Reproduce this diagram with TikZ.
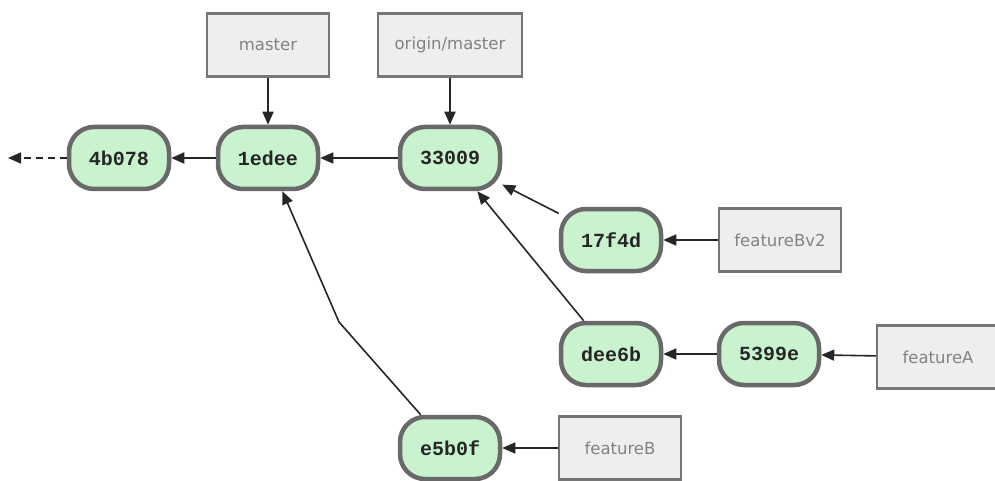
\documentclass[tikz,border=0pt]{standalone}
\usepackage{fontspec}
\setmainfont{DejaVu Sans}
\newfontfamily\monofont{Liberation Mono}
\usetikzlibrary{arrows.meta}
\definecolor{commitfill}{RGB}{201,243,207}
\definecolor{commitdraw}{RGB}{105,105,105}
\definecolor{reffill}{RGB}{238,238,238}
\definecolor{refdraw}{RGB}{118,118,118}
\definecolor{reftext}{RGB}{130,130,130}
\begin{document}
\begin{tikzpicture}[x=1pt,y=-1pt,
  commit/.style={draw=commitdraw, line width=4.5pt, fill=commitfill, rounded corners=25pt,
    minimum width=100pt, minimum height=62pt, inner sep=0pt,
    font=\monofont\bfseries\fontsize{20}{24}\selectfont, text=black!85},
  ref/.style={draw=refdraw, line width=2.5pt, fill=reffill,
    minimum width=122pt, minimum height=63pt, inner sep=0pt,
    font=\fontsize{16.5}{20}\selectfont, text=reftext},
  conn/.style={line width=1.6pt, draw=black!85, -{Triangle[length=13pt,width=11pt]}}]
\clip (0,0) rectangle (995,481);
\fill[white] (0,0) rectangle (995,481);
\node[commit] (c4b) at (119,158) {4b078};
\node[commit] (c1e) at (268,158) {1edee};
\node[commit] (c33) at (450,158) {33009};
\node[commit] (c17) at (611,240) {17f4d};
\node[commit] (cde) at (611,354) {dee6b};
\node[commit] (c53) at (769,354) {5399e};
\node[commit] (ce5) at (450,448) {e5b0f};
\node[ref] (master) at (268,45) {master};
\node[ref, minimum width=144pt] (origin) at (450,45) {origin/master};
\node[ref] (fbv2) at (780,240) {featureBv2};
\node[ref] (fa) at (938,357) {featureA};
\node[ref] (fb) at (620,448) {featureB};
\coordinate (tail) at (8,158);
\coordinate (bend) at (339,322);
\draw[conn] (master) -- (c1e);
\draw[conn] (origin) -- (c33);
\draw[conn] (c33) -- (c1e);
\draw[conn] (c1e) -- (c4b);
\draw[conn, dashed, dash pattern=on 7pt off 5pt] (c4b) -- (tail);
\draw[conn] (c17) -- (c33);
\draw[conn] (cde) -- (c33);
\draw[conn] (c53) -- (cde);
\draw[conn] (fbv2) -- (c17);
\draw[conn] (fa) -- (c53);
\draw[conn] (fb) -- (ce5);
\draw[conn] (ce5) -- (bend) -- (c1e);
\end{tikzpicture}
\end{document}
